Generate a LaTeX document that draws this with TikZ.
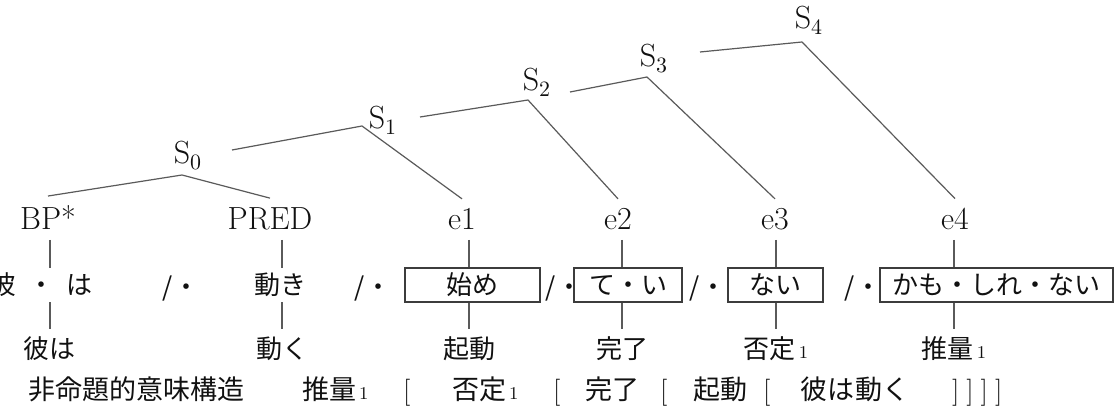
\documentclass[tikz,border=0pt]{standalone}
\usepackage{fontspec}
\newfontfamily\jpfont{Noto Sans CJK JP}
\usepackage{tikz}
\definecolor{stemc}{HTML}{5A5A5A}
\definecolor{boxc}{HTML}{3C3C3C}
\definecolor{inkc}{HTML}{111111}
\newcommand{\subone}{{\rmfamily\fontsize{9}{9}\selectfont\,1}}
\tikzset{
  cat/.style={font=\fontsize{16}{16}\selectfont, text=inkc, inner sep=0pt, outer sep=5pt, text depth=0pt, anchor=base},
  morph/.style={font=\jpfont\fontsize{13}{13}\selectfont, text=inkc, inner sep=0pt, minimum height=17pt, text height=11.4pt, text depth=1.6pt},
  unit/.style={morph, draw=boxc, line width=0.6pt},
  gloss/.style={font=\jpfont\fontsize{13}{13}\selectfont, text=inkc, inner sep=0pt, outer sep=3pt, text height=11.4pt, text depth=1.6pt, anchor=base},
  gist/.style={gloss, anchor=base west, outer sep=0pt, font=\jpfont\fontsize{13.5}{13.5}\selectfont},
  brk/.style={gist, font=\rmfamily\fontsize{13.5}{13.5}\selectfont},
  branch/.style={draw=stemc, line width=0.6pt, line join=round},
}

\begin{document}
\begin{tikzpicture}[x=0.5pt, y=-0.5pt]
\useasboundingbox[fill=white] (0,0) rectangle (1119,406);
% categories
\node[cat] (s0) at (188,164) {$\mathrm{S}_0$};
\node[cat] (s1) at (383,129) {$\mathrm{S}_1$};
\node[cat] (s2) at (537,91) {$\mathrm{S}_2$};
\node[cat] (s3) at (654,67) {$\mathrm{S}_3$};
\node[cat] (s4) at (809,29) {$\mathrm{S}_4$};
\node[cat] (bp) at (48,230) {BP*};
\node[cat] (pred) at (270,230) {PRED};
\node[cat] (e1) at (462,230) {e1};
\node[cat] (e2) at (618,230) {e2};
\node[cat] (e3) at (775,230) {e3};
\node[cat] (e4) at (955,230) {e4};
% joints
\coordinate (j0) at (182,175);
\coordinate (j1) at (362,126);
\coordinate (j2) at (528,100);
\coordinate (j3) at (647,77);
\coordinate (j4) at (802,42);
\coordinate (t1) at (232,150);
\coordinate (t2) at (420,117);
\coordinate (t3) at (570,92);
\coordinate (t4) at (700,52);
\draw[branch] (bp.north) -- (j0) -- (pred.north);
\draw[branch] (t1) -- (j1) -- (e1.north);
\draw[branch] (t2) -- (j2) -- (e2.north);
\draw[branch] (t3) -- (j3) -- (e3.north);
\draw[branch] (t4) -- (j4) -- (e4.north);
% morphemes
\node[morph, anchor=west] (kare) at (-10,285) {彼\hspace{6pt}・\hspace{6pt}は};
\node[morph] (ugoki) at (280,285) {動き};
\node[unit, minimum width=67.5pt] (box1) at (472.5,285) {始め};
\node[unit, minimum width=54pt] (box2) at (628,285) {て・い};
\node[unit, minimum width=47.5pt] (box3) at (775.5,285) {ない};
\node[unit, minimum width=116.5pt] (box4) at (996.5,285) {かも・しれ・ない};
\foreach \x [count=\i] in {181,373,564,708,863}
  \node[morph] (sl\i) at (\x,287) {/・};
% glosses
\node[gloss] (kareha) at (50,358) {彼は};
\node[gloss] (ugoku) at (282,358) {動く};
\node[gloss] (kidou) at (469,358) {起動};
\node[gloss] (kanryo) at (622,358) {完了};
\node[gloss] (hitei) at (776,358) {否定\subone};
\node[gloss] (suiryo) at (954,358) {推量\subone};
\draw[branch] (bp.south -| kareha) -- (kare.north -| kareha);
\draw[branch] (kare.south -| kareha) -- (kareha.north);
\draw[branch] (pred.south -| ugoku) -- (ugoki.north -| ugoku);
\draw[branch] (ugoki.south -| ugoku) -- (ugoku.north);
\draw[branch] (e1.south -| kidou) -- (box1.north -| kidou);
\draw[branch] (box1.south -| kidou) -- (kidou.north);
\draw[branch] (e2.south -| kanryo) -- (box2.north -| kanryo);
\draw[branch] (box2.south -| kanryo) -- (kanryo.north);
\draw[branch] (e3.south -| hitei) -- (box3.north -| hitei);
\draw[branch] (box3.south -| hitei) -- (hitei.north);
\draw[branch] (e4.south -| suiryo) -- (box4.north -| suiryo);
\draw[branch] (box4.south -| suiryo) -- (suiryo.north);
% bottom line
\node[gist] (nonprop) at (28,399) {非命題的意味構造};
\node[gist] (p4) at (302,399) {推量\subone};
\node[gist] (p3) at (452,399) {否定\subone};
\node[gist] (p2) at (585,399) {完了};
\node[gist] (p1) at (693,399) {起動};
\node[gist] (p0a) at (800,399) {彼は};
\node[gist] (p0b) at (855,399) {動く};
\foreach \x [count=\i] in {403,553,660,763}
  \node[brk] (open\i) at (\x,399) {[};
\node[brk] (close) at (952,399) {]\hspace{3.5pt}]\hspace{3.5pt}]\hspace{3.5pt}]};
\end{tikzpicture}
\end{document}
